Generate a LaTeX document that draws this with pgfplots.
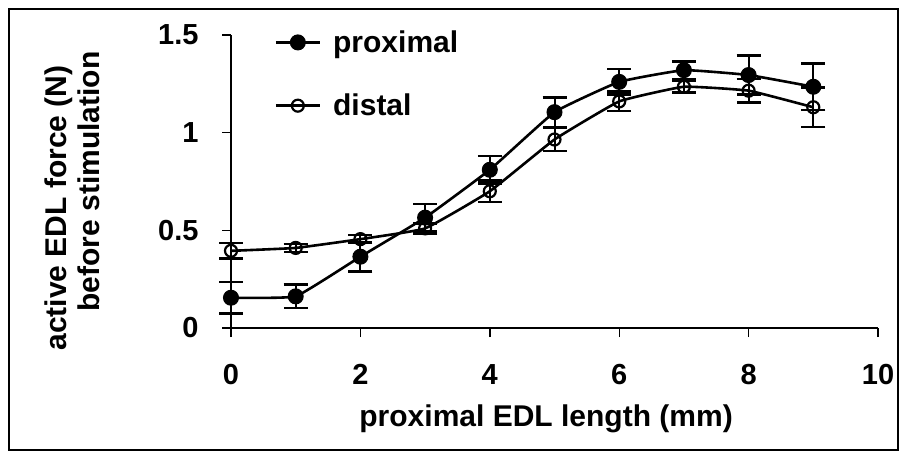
\documentclass[border=0pt]{standalone}
\usepackage{pgfplots}
\pgfplotsset{compat=1.18}
\usepackage{fontspec}
\setmainfont{Liberation Sans}
\pgfplotstableread{
x y e
0 0.155 0.08
1 0.162 0.06
2 0.365 0.075
3 0.565 0.07
4 0.81 0.07
5 1.105 0.075
6 1.26 0.065
7 1.32 0.045
8 1.295 0.10
9 1.235 0.12
}\proximal
\pgfplotstableread{
x y e
0 0.395 0.04
1 0.41 0.02
2 0.455 0.02
3 0.51 0.025
4 0.70 0.055
5 0.965 0.06
6 1.16 0.05
7 1.235 0.03
8 1.215 0.06
9 1.13 0.10
}\distal
\begin{document}
\begin{tikzpicture}[x=1pt,y=1pt]
\useasboundingbox (0,0) rectangle (905,455);
\draw[line width=1.2pt] (9,5) rectangle (898,446);
\begin{axis}[
  at={(231pt,127pt)}, anchor=south west,
  scale only axis, width=647pt, height=293pt,
  xmin=0, xmax=10, ymin=0, ymax=1.5,
  axis x line*=bottom, axis y line*=left,
  axis line style={line width=1.4pt},
  xtick={0,2,...,10}, ytick={0,0.5,1,1.5},
  yticklabels={0,0.5,1,1.5},
  tick align=outside, major tick length=9pt,
  tick style={line width=1.4pt, black},
  /pgf/number format/assume math mode=true,
  ticklabel style={font=\fontsize{29}{33}\selectfont\bfseries},
  xticklabel style={yshift=-24pt},
  yticklabel style={xshift=-20pt},
  clip=false,
  legend style={draw=none, fill=none, at={(axis description cs:0.067,1.015)}, anchor=north west,
    font=\fontsize{30}{34}\selectfont\bfseries, row sep=40pt, inner sep=0pt,
    nodes={inner sep=0pt},
    /tikz/every odd column/.append style={column sep=12pt},
    cells={anchor=west}},
  legend image code/.code={\draw[#1, mark repeat=2, mark phase=2] plot coordinates {(0pt,0pt) (22pt,0pt) (44pt,0pt)};},
  error bars/error bar style={line width=2pt, black},
  error bars/error mark options={rotate=90, mark size=12pt, line width=2.5pt, black},
]
\addplot[black, line width=2.6pt, smooth, tension=0.2, mark=*, mark size=7.5pt, mark options={solid, fill=black, line width=1pt},
  error bars/.cd, y dir=both, y explicit] table[x=x, y=y, y error=e] {\proximal};
\addlegendentry{proximal}
\addplot[black, line width=2.6pt, smooth, tension=0.2, mark=o, mark size=6pt, mark options={solid, fill=white, line width=2.2pt},
  error bars/.cd, y dir=both, y explicit] table[x=x, y=y, y error=e] {\distal};
\addlegendentry{distal}
\node[font=\fontsize{30}{34}\selectfont\bfseries, rotate=90, anchor=center] at (axis description cs:-0.267,0.41) {active EDL force (N)};
\node[font=\fontsize{30}{34}\selectfont\bfseries, rotate=90, anchor=center] at (axis description cs:-0.22,0.50) {before stimulation};
\node[font=\fontsize{30}{34}\selectfont\bfseries, anchor=center] at (axis description cs:0.487,-0.31) {proximal EDL length (mm)};
\end{axis}
\end{tikzpicture}
\end{document}
